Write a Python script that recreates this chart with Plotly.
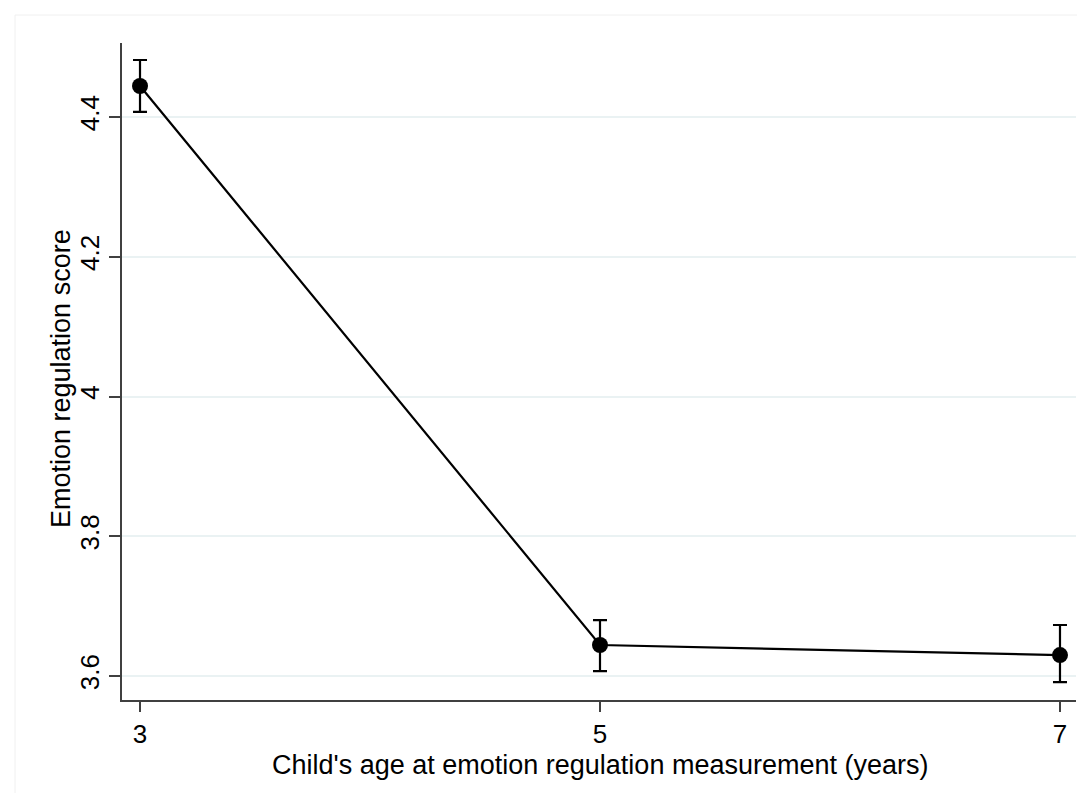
import plotly.graph_objects as go

ages = [3, 5, 7]
means = [4.4444, 3.6444, 3.630]
ci_upper = [4.4816, 3.680, 3.673]
ci_lower = [4.4072, 3.607, 3.5914]
y_ticks = [3.6, 3.8, 4.0, 4.2, 4.4]
y_tick_labels = ["3.6", "3.8", "4", "4.2", "4.4"]
x_ticks = [3, 5, 7]
x_title = "Child's age at emotion regulation measurement (years)"
y_title = "Emotion regulation score"

err_plus = [u - m for u, m in zip(ci_upper, means)]
err_minus = [m - l for m, l in zip(means, ci_lower)]

fig = go.Figure()
fig.add_trace(go.Scatter(
    x=ages, y=means, mode="lines+markers",
    line=dict(color="black", width=2.2),
    marker=dict(color="black", size=16),
    error_y=dict(type="data", symmetric=False, array=err_plus, arrayminus=err_minus,
                 color="black", thickness=2.2, width=7),
    showlegend=False,
))

font = "Liberation Sans, Arial, sans-serif"
L, R, T, B = 114, 17, 35, 101
W, H = 1085, 793
pw, ph = W - L - R, H - T - B

fig.update_layout(
    width=W, height=H,
    margin=dict(l=L, r=R, t=T, b=B),
    paper_bgcolor="white", plot_bgcolor="white",
    font=dict(family=font, size=26, color="black"),
    xaxis=dict(
        range=[2.9217, 7.0696], tickvals=x_ticks, ticktext=[str(v) for v in x_ticks],
        showgrid=False, zeroline=False, showline=True, linecolor="#404040", linewidth=1.6,
        ticks="outside", ticklen=10, tickwidth=1.6, tickcolor="#404040",
        automargin=False,
    ),
    yaxis=dict(
        range=[3.5657, 4.5059], tickvals=y_ticks, ticktext=y_tick_labels, tickangle=-90,
        showgrid=True, gridcolor="#EAF2F3", gridwidth=1.6, zeroline=False,
        showline=True, linecolor="#404040", linewidth=1.6,
        ticks="outside", ticklen=11, tickwidth=1.6, tickcolor="#404040",
        automargin=False,
    ),
    annotations=[
        dict(text=x_title, xref="paper", yref="paper",
             x=(592 - L) / pw, y=(H - B - 757) / ph, xanchor="center", yanchor="middle",
             showarrow=False, font=dict(size=27)),
        dict(text=y_title, xref="paper", yref="paper", textangle=-90,
             x=(53 - L) / pw, y=(H - B - 371) / ph, xanchor="center", yanchor="middle",
             showarrow=False, font=dict(size=27)),
    ],
    shapes=[
        dict(type="line", xref="paper", yref="paper",
             x0=(7 - L) / pw, x1=(W - L) / pw, y0=(H - B - 7) / ph, y1=(H - B - 7) / ph,
             line=dict(color="#F0F0F0", width=1)),
        dict(type="line", xref="paper", yref="paper",
             x0=(7 - L) / pw, x1=(7 - L) / pw, y0=(H - B - 7) / ph, y1=(H - B - H) / ph,
             line=dict(color="#F0F0F0", width=1)),
    ],
)

fig.write_html("out.html")
